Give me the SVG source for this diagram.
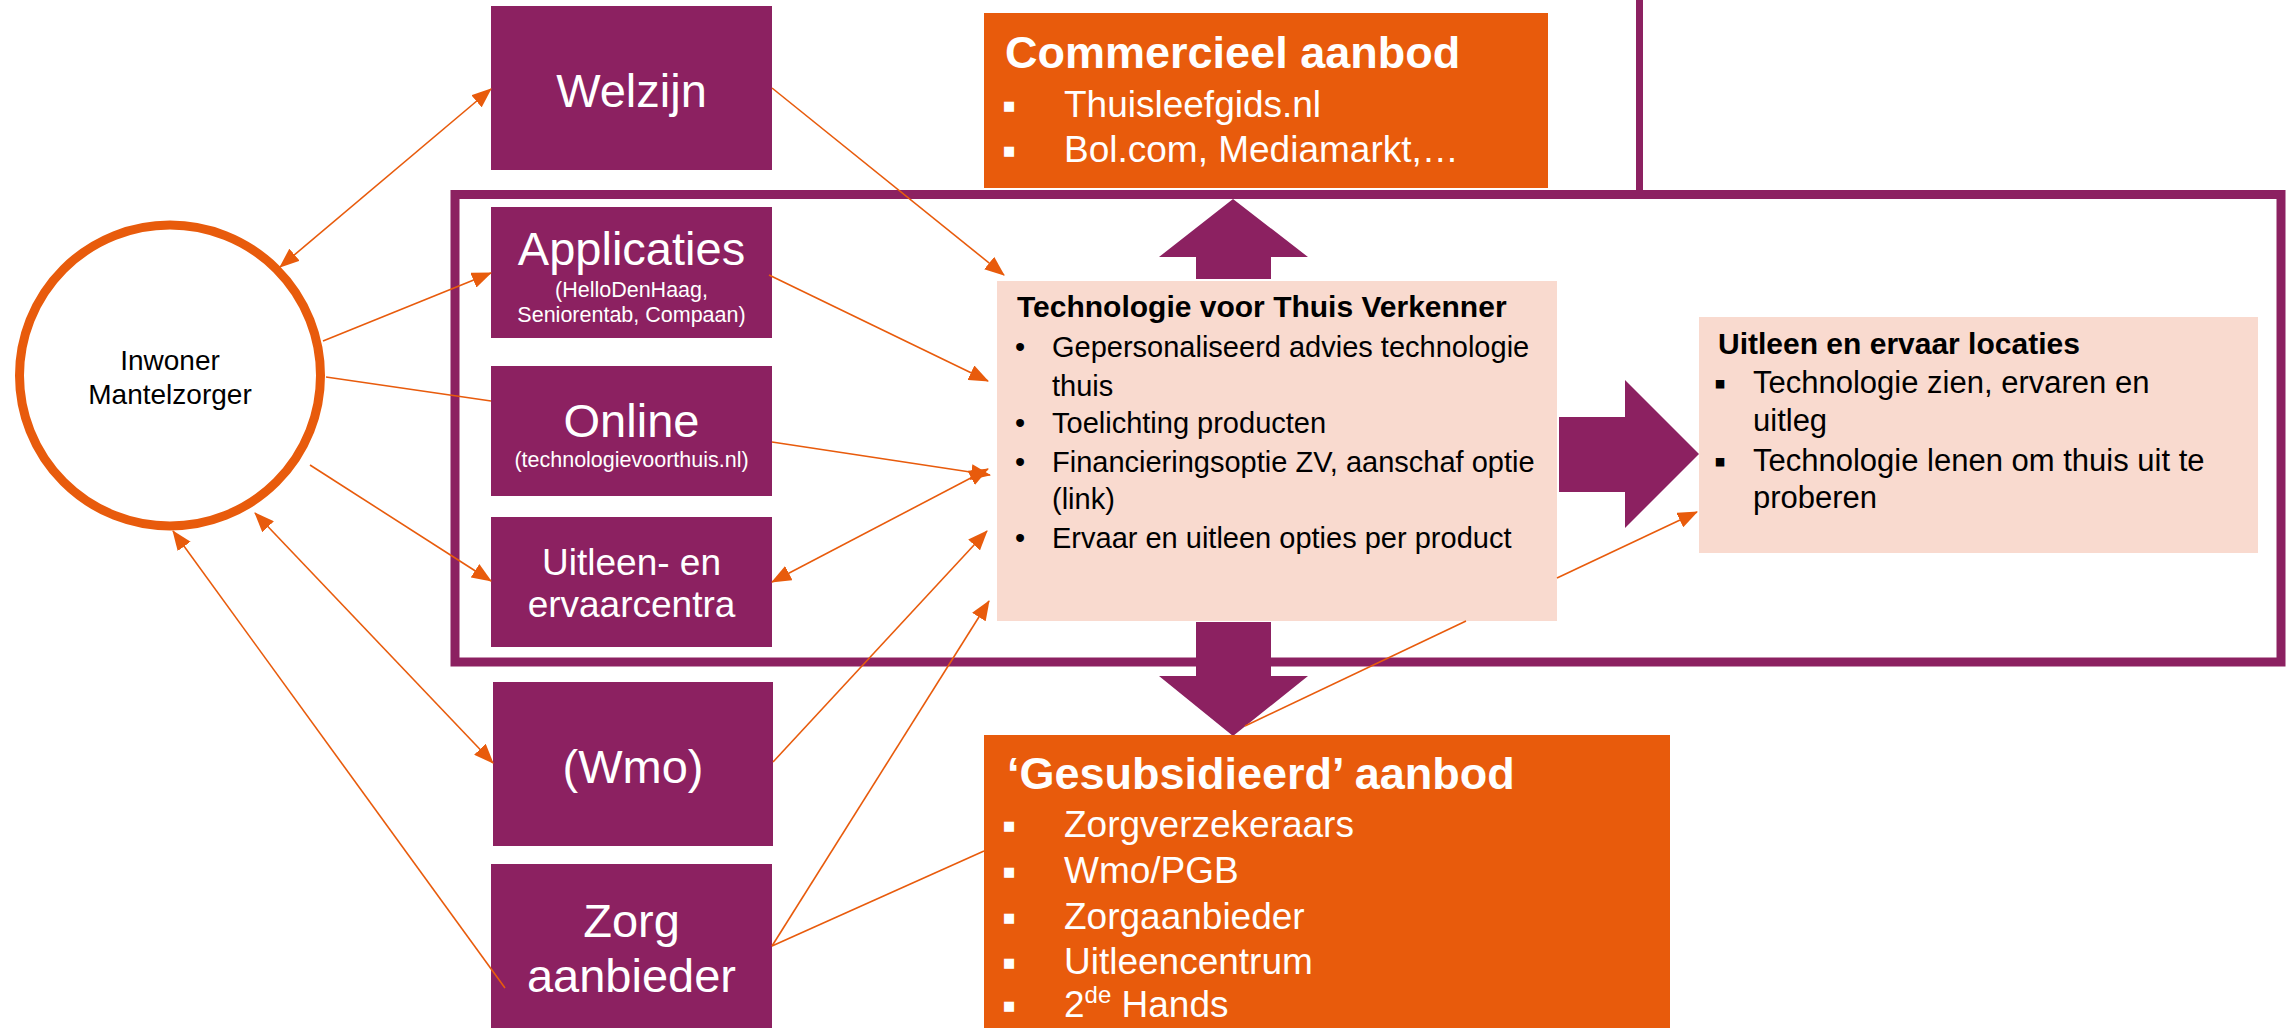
<svg xmlns="http://www.w3.org/2000/svg" width="2286" height="1028" viewBox="0 0 2286 1028">
<defs>
<marker id="ah" markerUnits="userSpaceOnUse" markerWidth="20" markerHeight="16" viewBox="0 0 20 16" refX="19" refY="8" orient="auto-start-reverse"><path d="M0,0 L20,8 L0,16 z" fill="#E85B0C"/></marker>
</defs>
<style>
.pbox{fill:#8C2161}
.obox{fill:#E85B0C}
.lbox{fill:#F9DACF}
.frame{fill:none;stroke:#8C2161;stroke-width:9}
.bigarrow{fill:#8C2161}
text{font-family:"Liberation Sans",Arial,sans-serif}
.w{fill:#fff}
.k{fill:#000}
.c{text-anchor:middle}
.big{font-size:47px}
.small{font-size:21.5px}
.mid{font-size:37px}
.ttl{font-size:45px;font-weight:bold}
.tt{font-size:30px;font-weight:bold}
.tb{font-size:29px}
.ub{font-size:31px}
.sq{font-size:40px}
.sq2{font-size:34px}
.conn line{stroke:#E85B0C;stroke-width:1.6;fill:none}
.a2{marker-end:url(#ah)}
.a3{marker-start:url(#ah);marker-end:url(#ah)}
</style>

<g id="frame">
<rect class="frame" x="455" y="194.5" width="1826" height="467.5"/>
<rect x="1636" y="0" width="7" height="192" fill="#8C2161"/>
</g>

<g id="bigarrows">
<polygon class="bigarrow" points="1196,279 1196,257 1159,257 1233,199 1308,257 1271,257 1271,279"/>
<polygon class="bigarrow" points="1196,622 1271,622 1271,676 1308,676 1233,736 1159,676 1196,676"/>
<polygon class="bigarrow" points="1559,417 1625,417 1625,380 1699,454 1625,528 1625,492 1559,492"/>
</g>

<g id="inwoner">
<circle cx="170" cy="375.5" r="150.5" fill="#fff" stroke="#E85B0C" stroke-width="9"/>
<text class="k c" x="170" y="370" font-size="28">Inwoner</text>
<text class="k c" x="170" y="404" font-size="28">Mantelzorger</text>
</g>

<g id="welzijn">
<rect class="pbox" x="491" y="6" width="281" height="164"/>
<text class="w c big" x="631.5" y="107">Welzijn</text>
</g>

<g id="applicaties">
<rect class="pbox" x="491" y="207" width="281" height="131"/>
<text class="w c big" x="631.5" y="265">Applicaties</text>
<text class="w c small" x="631.5" y="297">(HelloDenHaag,</text>
<text class="w c small" x="631.5" y="322">Seniorentab, Compaan)</text>
</g>

<g id="online">
<rect class="pbox" x="491" y="366" width="281" height="130"/>
<text class="w c big" x="631.5" y="437">Online</text>
<text class="w c small" x="631.5" y="467">(technologievoorthuis.nl)</text>
</g>

<g id="uitleencentra">
<rect class="pbox" x="491" y="517" width="281" height="130"/>
<text class="w c mid" x="631.5" y="575">Uitleen- en</text>
<text class="w c mid" x="631.5" y="617">ervaarcentra</text>
</g>

<g id="wmo">
<rect class="pbox" x="493" y="682" width="280" height="164"/>
<text class="w c big" x="633" y="783">(Wmo)</text>
</g>

<g id="zorgaanbieder">
<rect class="pbox" x="491" y="864" width="281" height="170"/>
<text class="w c big" x="631.5" y="937">Zorg</text>
<text class="w c big" x="631.5" y="992">aanbieder</text>
</g>

<g id="commercieel">
<rect class="obox" x="984" y="13" width="564" height="175"/>
<text class="w ttl" x="1005" y="68">Commercieel aanbod</text>
<text class="w sq" x="1002" y="119">▪</text>
<text class="w mid" x="1064" y="117">Thuisleefgids.nl</text>
<text class="w sq" x="1002" y="164">▪</text>
<text class="w mid" x="1064" y="162">Bol.com, Mediamarkt,…</text>
</g>

<g id="gesubsidieerd">
<rect class="obox" x="984" y="735" width="686" height="300"/>
<text class="w ttl" x="1007" y="789">‘Gesubsidieerd’ aanbod</text>
<text class="w sq" x="1002" y="839">▪</text>
<text class="w mid" x="1064" y="837">Zorgverzekeraars</text>
<text class="w sq" x="1002" y="885">▪</text>
<text class="w mid" x="1064" y="883">Wmo/PGB</text>
<text class="w sq" x="1002" y="931">▪</text>
<text class="w mid" x="1064" y="929">Zorgaanbieder</text>
<text class="w sq" x="1002" y="976">▪</text>
<text class="w mid" x="1064" y="974">Uitleencentrum</text>
<text class="w sq" x="1002" y="1019">▪</text>
<text class="w mid" x="1064" y="1017">2<tspan font-size="24" dy="-14">de</tspan><tspan dy="14"> Hands</tspan></text>
</g>

<g id="verkenner">
<rect class="lbox" x="997" y="281" width="560" height="340"/>
<text class="k tt" x="1017" y="317">Technologie voor Thuis Verkenner</text>
<text class="k tb" x="1015" y="357">•</text>
<text class="k tb" x="1052" y="357">Gepersonaliseerd advies technologie</text>
<text class="k tb" x="1052" y="396">thuis</text>
<text class="k tb" x="1015" y="433">•</text>
<text class="k tb" x="1052" y="433">Toelichting producten</text>
<text class="k tb" x="1015" y="472">•</text>
<text class="k tb" x="1052" y="472">Financieringsoptie ZV, aanschaf optie</text>
<text class="k tb" x="1052" y="509">(link)</text>
<text class="k tb" x="1015" y="548">•</text>
<text class="k tb" x="1052" y="548">Ervaar en uitleen opties per product</text>
</g>

<g id="locaties">
<rect class="lbox" x="1699" y="317" width="559" height="236"/>
<text class="k tt" x="1718" y="354">Uitleen en ervaar locaties</text>
<text class="k sq2" x="1714" y="395">▪</text>
<text class="k ub" x="1753" y="393">Technologie zien, ervaren en</text>
<text class="k ub" x="1753" y="431">uitleg</text>
<text class="k sq2" x="1714" y="473">▪</text>
<text class="k ub" x="1753" y="471">Technologie lenen om thuis uit te</text>
<text class="k ub" x="1753" y="508">proberen</text>
</g>

<g id="connectors" class="conn">
<line class="a3" x1="280" y1="267" x2="491" y2="89"/>
<line class="a2" x1="323" y1="341" x2="491" y2="273"/>
<line x1="326" y1="377" x2="491" y2="401"/>
<line class="a2" x1="772" y1="442" x2="990" y2="475"/>
<line class="a2" x1="310" y1="465" x2="491" y2="581"/>
<line class="a3" x1="772" y1="582" x2="988" y2="469"/>
<line class="a3" x1="255" y1="513" x2="493" y2="763"/>
<line class="a2" x1="773" y1="762" x2="987" y2="531"/>
<line class="a2" x1="505" y1="988" x2="173" y2="531"/>
<line class="a2" x1="772" y1="946" x2="989" y2="601"/>
<line x1="772" y1="946" x2="984" y2="851"/>
<line class="a2" x1="772" y1="88" x2="1004" y2="275"/>
<line class="a2" x1="769" y1="275" x2="988" y2="381"/>
<line x1="1245" y1="726" x2="1466" y2="621"/>
<line class="a2" x1="1557" y1="578" x2="1697" y2="512"/>
</g>
</svg>
